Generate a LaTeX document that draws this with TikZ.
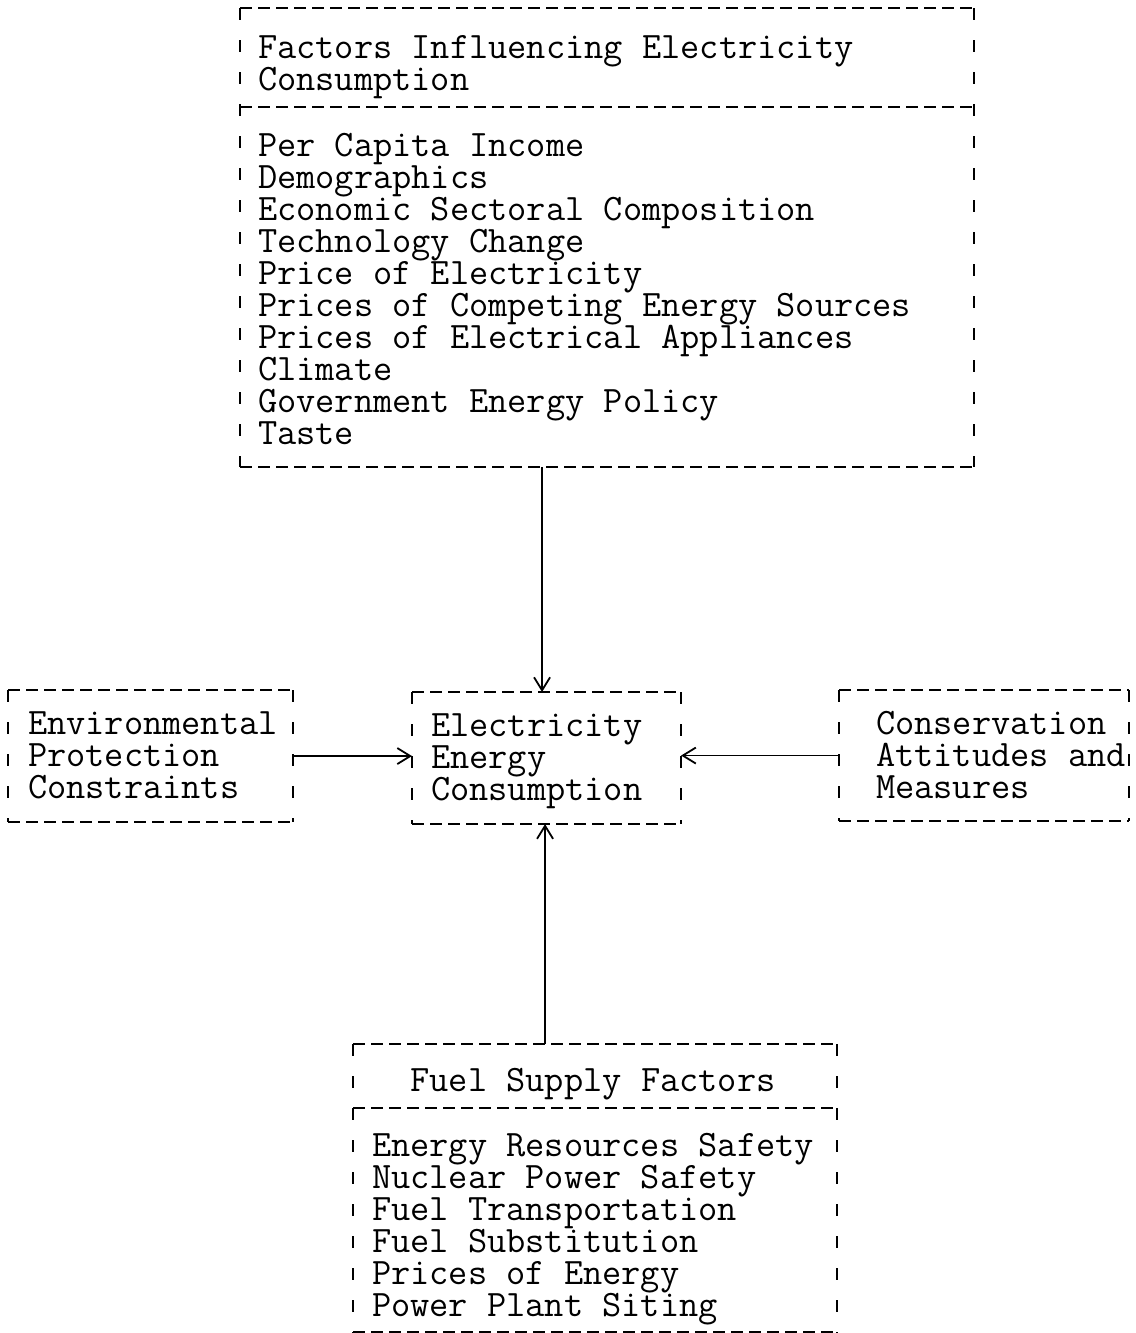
\documentclass[tikz,border=0pt]{standalone}
\usepackage{fontspec}
\usepackage{tikz}
\usetikzlibrary{arrows.meta,calc,positioning}

\newcommand\dframe[1]{%
  \draw[hdash] (#1.north west) -- (#1.north east) (#1.south west) -- (#1.south east);
  \draw[vdash] (#1.north west) -- (#1.south west) (#1.north east) -- (#1.south east);}

\begin{document}
\begin{tikzpicture}[x=1pt,y=-1pt,line width=2.1pt,
  >={Straight Barb[length=13pt,width=16pt]},
  hdash/.style={dash pattern=on 12pt off 6pt},
  vdash/.style={dash pattern=on 12pt off 20pt},
  frame/.style={inner sep=0pt,anchor=north west},
  txt/.style={inner sep=0pt,anchor=north west,align=left,
    font=\ttfamily\fontsize{37.3}{32}\selectfont}]
  \useasboundingbox (0,0) rectangle (1135,1333);

  % frames
  \node[frame,minimum width=732pt,minimum height=457pt] (fac) at (240,8) {};
  \node[frame,minimum width=267pt,minimum height=130pt] (ec) at (412,692) {};
  \node[frame,minimum width=283pt,minimum height=130pt] (env) at (8,690) {};
  \node[frame,minimum width=288pt,minimum height=129pt] (cons) at (839,690) {};
  \node[frame,minimum width=482pt,minimum height=286pt] (fuel) at (353,1044) {};
  \foreach \b in {fac,ec,env,cons,fuel} {\dframe{\b}}
  \coordinate (facdiv) at (240,107);
  \coordinate (fueldiv) at (353,1108);
  \draw[hdash] (facdiv) -- (facdiv -| fac.east);
  \draw[hdash] (fueldiv) -- (fueldiv -| fuel.east);

  % texts
  \node[txt] (factitle) at (257,34) {Factors Influencing Electricity\\Consumption};
  \node[txt] (facitems) at (257,132) {Per Capita Income\\Demographics\\
    Economic Sectoral Composition\\Technology Change\\Price of Electricity\\
    Prices of Competing Energy Sources\\Prices of Electrical Appliances\\
    Climate\\Government Energy Policy\\Taste};
  \node[txt] (ectext) at (430,713) {Electricity\\Energy\\Consumption};
  \node[txt] (envtext) at (27,711) {Environmental\\Protection\\Constraints};
  \node[txt] (constext) at (875,710) {Conservation\\Attitudes and\\Measures};
  \node[txt,anchor=north] (fueltitle) at (593,1067) {Fuel Supply Factors};
  \node[txt] (fuelitems) at (371,1132) {Energy Resources Safety\\Nuclear Power Safety\\
    Fuel Transportation\\Fuel Substitution\\Prices of Energy\\Power Plant Siting};

  % arrows
  \coordinate (ectop) at ($(ec.north)+(-4.5,0)$);
  \coordinate (ecbot) at ($(ec.south)+(-1.5,0)$);
  \draw[->,line width=1.8pt] (fac.south -| ectop) -- (ectop);
  \draw[->,line width=1.8pt] (fuel.north -| ecbot) -- (ecbot);
  \draw[->,line width=1.8pt] (env.east) -- (env.east -| ec.west);
  \draw[->,line width=1.8pt] (cons.west) -- (cons.west -| ec.east);
\end{tikzpicture}
\end{document}
